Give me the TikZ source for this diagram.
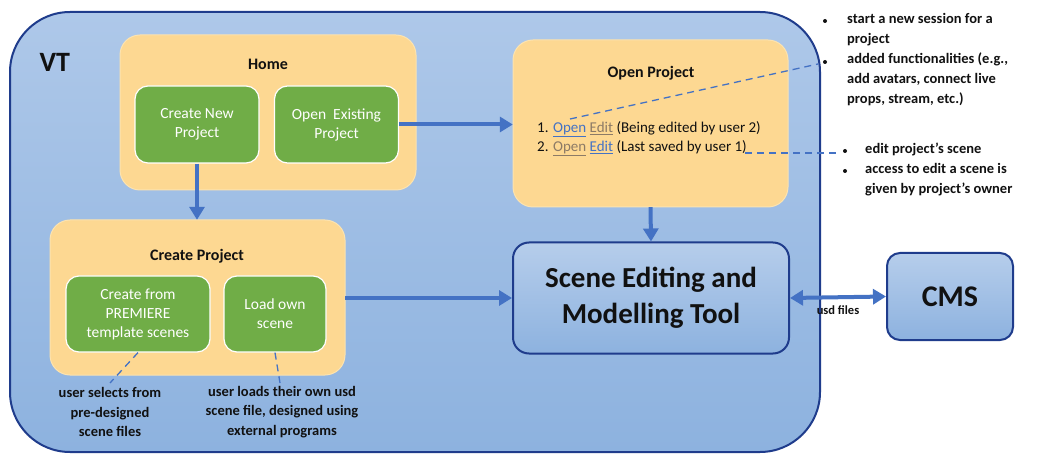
\documentclass[tikz,border=0pt]{standalone}
\usepackage{fontspec}
\setmainfont{Carlito}
\usetikzlibrary{arrows.meta}
\definecolor{vtborder}{HTML}{1F3C8C}
\definecolor{vttop}{HTML}{AEC8E9}
\definecolor{vtbot}{HTML}{8DB2DF}
\definecolor{panel}{HTML}{FDD892}
\definecolor{panelrim}{HTML}{FCE3B0}
\definecolor{leaf}{HTML}{70AD47}
\definecolor{flow}{HTML}{4472C4}
\definecolor{linkgray}{HTML}{8C7A66}
\definecolor{ink}{HTML}{111111}
\tikzset{
  panelbox/.style={draw=panelrim, line width=1pt, fill=panel, rounded corners=20pt},
  leafbox/.style={draw=white, line width=1.2pt, fill=leaf, rounded corners=13pt,
    text=white, align=center, font=\fontsize{15.5}{19}\selectfont, inner sep=0pt},
  toolbox/.style={draw=vtborder, line width=2pt, top color=vttop!90!white, bottom color=vtbot,
    rounded corners=16pt, text=ink, align=center, inner sep=0pt},
  paneltitle/.style={font=\bfseries\fontsize{16}{18}\selectfont, text=ink},
  flowarrow/.style={draw=flow, line width=4pt, -{Triangle[length=13pt,width=15pt]}},
  twoway/.style={draw=flow, line width=4pt, {Triangle[length=13pt,width=15pt]}-{Triangle[length=13pt,width=15pt]}},
  callout/.style={draw=flow, line width=1.3pt, dash pattern=on 7pt off 5pt},
  note/.style={font=\bfseries\fontsize{14.5}{19.5}\selectfont, text=ink, align=center},
  bulletnote/.style={font=\bfseries\fontsize{14.5}{20}\selectfont, text=ink, align=left, anchor=north west, inner sep=0pt},
  bulletdot/.style={circle, fill=ink, inner sep=0pt, minimum size=4pt},
}
\newcommand{\bl}[1]{\textcolor{flow}{\underline{#1}}}
\newcommand{\gy}[1]{\textcolor{linkgray}{\underline{#1}}}
\begin{document}
\begin{tikzpicture}[x=1pt,y=-1pt]
\useasboundingbox (0,0) rectangle (1060,454);
\fill[white] (0,0) rectangle (1060,454);

% VT container
\draw[vtborder, line width=2pt, top color=vttop, bottom color=vtbot, rounded corners=60pt]
  (10,12) rectangle (820,452);
\node[font=\bfseries\fontsize{28}{30}\selectfont, text=ink, anchor=west] (vt) at (36,62) {VT};

% Home panel
\draw[panelbox] (120,35) rectangle (416,190);
\node[paneltitle] (home) at (268,64) {Home};
\node[leafbox, minimum width=124pt, minimum height=77pt] (newproj) at (197,124.5) {Create New\\Project};
\node[leafbox, minimum width=124pt, minimum height=77pt] (openex) at (336.5,124.5) {Open\ \ Existing\\Project};

% Open Project panel
\draw[panelbox] (513,40) rectangle (788,207);
\node (openpanel) at (650.5,123.5) [minimum width=275pt, minimum height=167pt, inner sep=0pt] {};
\node[paneltitle] (optitle) at (651,73) {Open Project};
\node[anchor=west, inner sep=0pt, font=\fontsize{15}{18}\selectfont, text=ink] (line1) at (537,129)
  {1. \bl{Open} \gy{Edit} (Being edited by user 2)};
\node[anchor=west, inner sep=0pt, font=\fontsize{15}{18}\selectfont, text=ink] (line2) at (537,148)
  {2. \gy{Open} \bl{Edit} (Last saved by user 1)};

% Create Project panel
\draw[panelbox] (50,220) rectangle (345,375);
\node (createpanel) at (197.5,297.5) [minimum width=295pt, minimum height=155pt, inner sep=0pt] {};
\node[paneltitle] (cptitle) at (197,256) {Create Project};
\node[leafbox, minimum width=144pt, minimum height=76pt] (premiere) at (138,314) {Create from\\PREMIERE\\template scenes};
\node[leafbox, minimum width=102pt, minimum height=76pt] (loadown) at (275,314) {Load own\\scene};

% Scene editing tool and CMS
\node[toolbox, minimum width=276pt, minimum height=111pt,
  font=\bfseries\fontsize{29}{36}\selectfont] (sem) at (651,298) {Scene Editing and\\Modelling Tool};
\node[toolbox, minimum width=126pt, minimum height=87pt, rounded corners=13pt,
  font=\bfseries\fontsize{30}{32}\selectfont] (cms) at (950,296.5) {CMS};

% Flow arrows
\draw[flowarrow] (openex.east) -- (openex.east -| openpanel.west);
\draw[flowarrow] (newproj.south) -- (newproj.south |- createpanel.north);
\draw[flowarrow] (openpanel.south) -- (sem.north);
\draw[flowarrow] (createpanel.east |- sem.west) -- (sem.west);
\draw[twoway] (sem.east) -- (cms.west) node[midway, below=3pt, font=\bfseries\fontsize{12.5}{14}\selectfont, text=ink] (usd) {usd files};

% Notes under Create Project
\node[note] (selnote) at (110,412) {user selects from\\pre-designed\\scene files};
\node[note] (loadnote) at (282,412) {user loads their own usd\\scene file, designed using\\external programs};
\coordinate (selend) at (110,383);
\coordinate (loadend) at (280,383);
\draw[callout] (premiere.south) -- (selend);
\draw[callout] (loadown.south) -- (loadend);

% Notes on the right
\node[bulletnote] (opennotes) at (847,13)
  {start a new session for a\\project\\added functionalities (e.g.,\\add avatars, connect live\\props, stream, etc.)};
\node[bulletdot] (b1) at (825,21) {};
\node[bulletdot] (b2) at (825,62) {};
\node[bulletnote] (editnotes) at (865,143)
  {edit project's scene\\access to edit a scene is\\given by project's owner};
\node[bulletdot] (b3) at (845,151) {};
\node[bulletdot] (b4) at (845,171) {};

\coordinate (openword) at (570,119);
\coordinate (openend) at (818,64);
\coordinate (editword) at (745,153);
\coordinate (editend) at (838,153);
\draw[callout] (openword) -- (openend);
\draw[callout] (editword) -- (editend);
\end{tikzpicture}
\end{document}
